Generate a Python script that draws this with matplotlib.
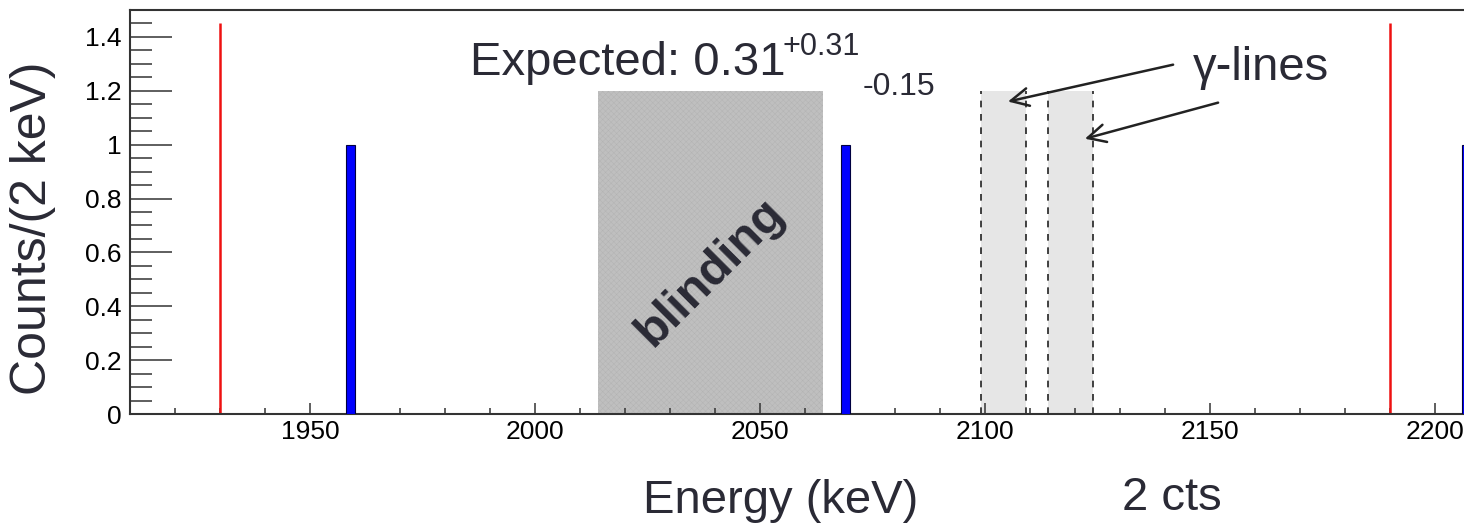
import matplotlib.pyplot as plt
from matplotlib.ticker import MultipleLocator

plt.rcParams['font.family'] = ['Liberation Sans', 'DejaVu Sans']
plt.rcParams['hatch.linewidth'] = 0.3

# events in the analysis window, 2 keV bins (left edges)
bin_left = [1958, 2068, 2206]
counts = [1, 1, 1]
bin_width = 2

# window edges, blinded region and excluded gamma lines (keV)
window_edges = [1930, 2190]
blind_lo, blind_hi = 2014, 2064
gamma_bands = [(2099, 2109), (2114, 2124)]

expected = '0.31'
exp_up = '+0.31'
exp_down = '-0.15'

W, H = 1464, 523
fig = plt.figure(figsize=(W / 100, H / 100), dpi=100)
ax = fig.add_axes([130 / W, 109 / H, 1350 / W, 404 / H])
ax.set_xlim(1910, 2210)
ax.set_ylim(0, 1.5)

txt = '#2a2a35'
axc = '#333333'

# blinded window
ax.fill_between([blind_lo, blind_hi], 0, 1.2, facecolor='#bfbfbf', lw=0,
                hatch='xxxxxx', edgecolor='#b2b2b2', zorder=1)

# gamma-line bands
for lo, hi in gamma_bands:
    ax.fill_between([lo, hi], 0, 1.2, color='#e6e6e6', lw=0, zorder=1)
    ax.vlines([lo, hi], 0, 1.2, colors='#222222', linestyles=(0, (4, 4)),
              lw=1.2, zorder=2)

# window edges
ax.vlines(window_edges, 0, 1.45, colors='#ee1111', lw=1.8, zorder=2)

# events
ax.bar(bin_left, counts, width=bin_width, align='edge', color='#0000ff',
       edgecolor='#000040', lw=0.8, zorder=3)

for s in ['left', 'bottom', 'top', 'right']:
    ax.spines[s].set_color(axc)
    ax.spines[s].set_linewidth(1.5)

ax.xaxis.set_major_locator(MultipleLocator(50))
ax.xaxis.set_minor_locator(MultipleLocator(10))
ax.yaxis.set_major_locator(MultipleLocator(0.2))
ax.yaxis.set_minor_locator(MultipleLocator(0.05))
ax.yaxis.set_major_formatter(lambda v, p: f'{v:g}')
ax.tick_params(axis='x', which='major', direction='in', length=8, width=1.1,
               color=axc, labelsize=19, pad=4)
ax.tick_params(axis='x', which='minor', direction='in', length=4.5, width=1.1,
               color=axc)
ax.tick_params(axis='y', which='major', direction='in', length=30, width=1.1,
               color=axc, labelsize=19, pad=6)
ax.tick_params(axis='y', which='minor', direction='in', length=16, width=1.1,
               color=axc)

ax.text((blind_lo + blind_hi) / 2, 0.525, 'blinding', rotation=45,
        ha='center', va='center', fontsize=35, fontweight='bold', color=txt,
        zorder=4)

# annotation texts in pixel positions
def ftext(x, y, s, **kw):
    fig.text(x / W, 1 - y / H, s, color=txt, **kw)

ftext(470, 75, 'Expected: ' + expected, fontsize=34, va='baseline')
ftext(783, 55, exp_up, fontsize=22, va='baseline')
ftext(863, 95, exp_down, fontsize=23, va='baseline')
ftext(1193, 80, 'γ-lines', fontsize=34, va='baseline')
ftext(33, 228, 'Counts/(2 keV)', fontsize=36, rotation=90, ha='center',
      va='center')
ftext(781, 513, 'Energy (keV)', fontsize=34, ha='center', va='baseline')
ftext(1122, 510, '2 cts', fontsize=34, va='baseline')

arrows = [((2105.1, 1.16), (2141.8, 1.297)), ((2122.2, 1.022), (2151.8, 1.156))]
for tip, tail in arrows:
    ax.annotate('', xy=tip, xytext=tail,
                arrowprops=dict(arrowstyle='->', lw=1.8, color='#222222',
                                mutation_scale=32, shrinkA=0, shrinkB=0))

fig.savefig('out.png', dpi=100)
